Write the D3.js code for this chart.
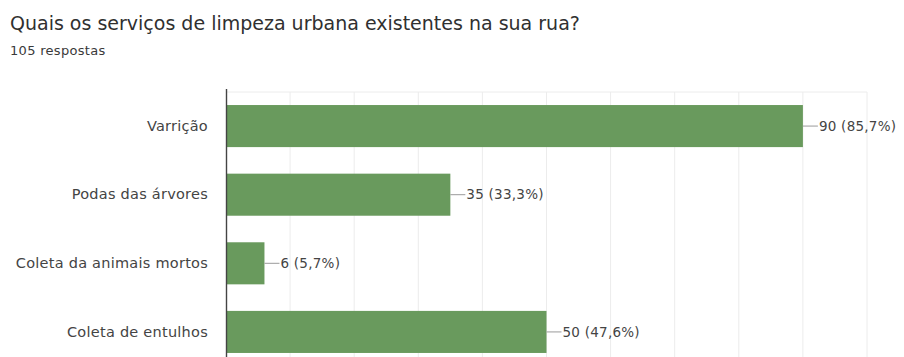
<!DOCTYPE html>
<html>
<head>
<meta charset="utf-8">
<script src="https://cdn.jsdelivr.net/npm/d3@7"></script>
<style>
  html, body { margin: 0; padding: 0; background: #fff; }
  svg { display: block; font-family: "DejaVu Sans", Verdana, sans-serif; }
</style>
</head>
<body>
<svg id="chart" width="904" height="357"></svg>
<script>
// Survey question, response count and answer tallies
const title = "Quais os serviços de limpeza urbana existentes na sua rua?";
const subtitle = "105 respostas";
const categories = ["Varrição", "Podas das árvores", "Coleta da animais mortos", "Coleta de entulhos"];
const counts = [90, 35, 6, 50];
const percents = ["85,7%", "33,3%", "5,7%", "47,6%"];
const gridTicks = [10, 20, 30, 40, 50, 60, 70, 80, 90, 100];

const svg = d3.select("#chart");
const W = 904, H = 357;
const plot = { left: 226, right: 867, top: 92, bottom: 366 };

svg.append("text")
  .attr("x", 10).attr("y", 30)
  .attr("fill", "#303030")
  .attr("font-size", 19)
  .text(title);

svg.append("text")
  .attr("x", 10).attr("y", 55)
  .attr("fill", "#3a3a3a")
  .attr("font-size", 13)
  .attr("letter-spacing", 0.3)
  .text(subtitle);

const x = d3.scaleLinear().domain([0, 100]).range([plot.left, plot.right]);
const y = d3.scaleBand()
  .domain(categories)
  .range([plot.top, plot.bottom])
  .paddingInner(0.387)
  .paddingOuter(0.19);

// vertical gridlines and top border
const grid = svg.append("g");
grid.selectAll("line.v")
  .data(gridTicks)
  .join("line")
  .attr("class", "v")
  .attr("x1", d => x(d)).attr("x2", d => x(d))
  .attr("y1", plot.top).attr("y2", H)
  .attr("stroke", "#ececec").attr("stroke-width", 1);
grid.append("line")
  .attr("x1", plot.left).attr("x2", x(100))
  .attr("y1", plot.top).attr("y2", plot.top)
  .attr("stroke", "#ececec");

// bars
svg.append("g").selectAll("rect")
  .data(counts)
  .join("rect")
  .attr("x", x(0))
  .attr("y", (d, i) => y(categories[i]))
  .attr("width", d => x(d) - x(0))
  .attr("height", y.bandwidth())
  .attr("fill", "#699a5d");

// category axis
const yAxis = svg.append("g")
  .attr("transform", `translate(${plot.left},0)`)
  .call(d3.axisLeft(y).tickSize(0).tickPadding(18));
yAxis.select(".domain").attr("stroke", "#444").attr("stroke-width", 1.4)
  .attr("d", `M0.5,${plot.top - 3}V${H}`);
yAxis.selectAll("text")
  .attr("fill", "#444")
  .attr("font-size", 14.5)
  .attr("letter-spacing", 0.25)
  .attr("font-family", "'DejaVu Sans', sans-serif");

// value labels with connector lines
const lab = svg.append("g").selectAll("g")
  .data(counts)
  .join("g")
  .attr("transform", (d, i) => `translate(${x(d)},${y(categories[i]) + y.bandwidth() / 2})`);
lab.append("line")
  .attr("x1", 0).attr("x2", 15)
  .attr("stroke", "#9a9a9a").attr("stroke-width", 1);
lab.append("text")
  .attr("x", 16).attr("dy", "0.35em")
  .attr("fill", "#444")
  .attr("font-size", 13.5)
  .attr("letter-spacing", 0.25)
  .text((d, i) => `${d} (${percents[i]})`);
</script>
</body>
</html>
